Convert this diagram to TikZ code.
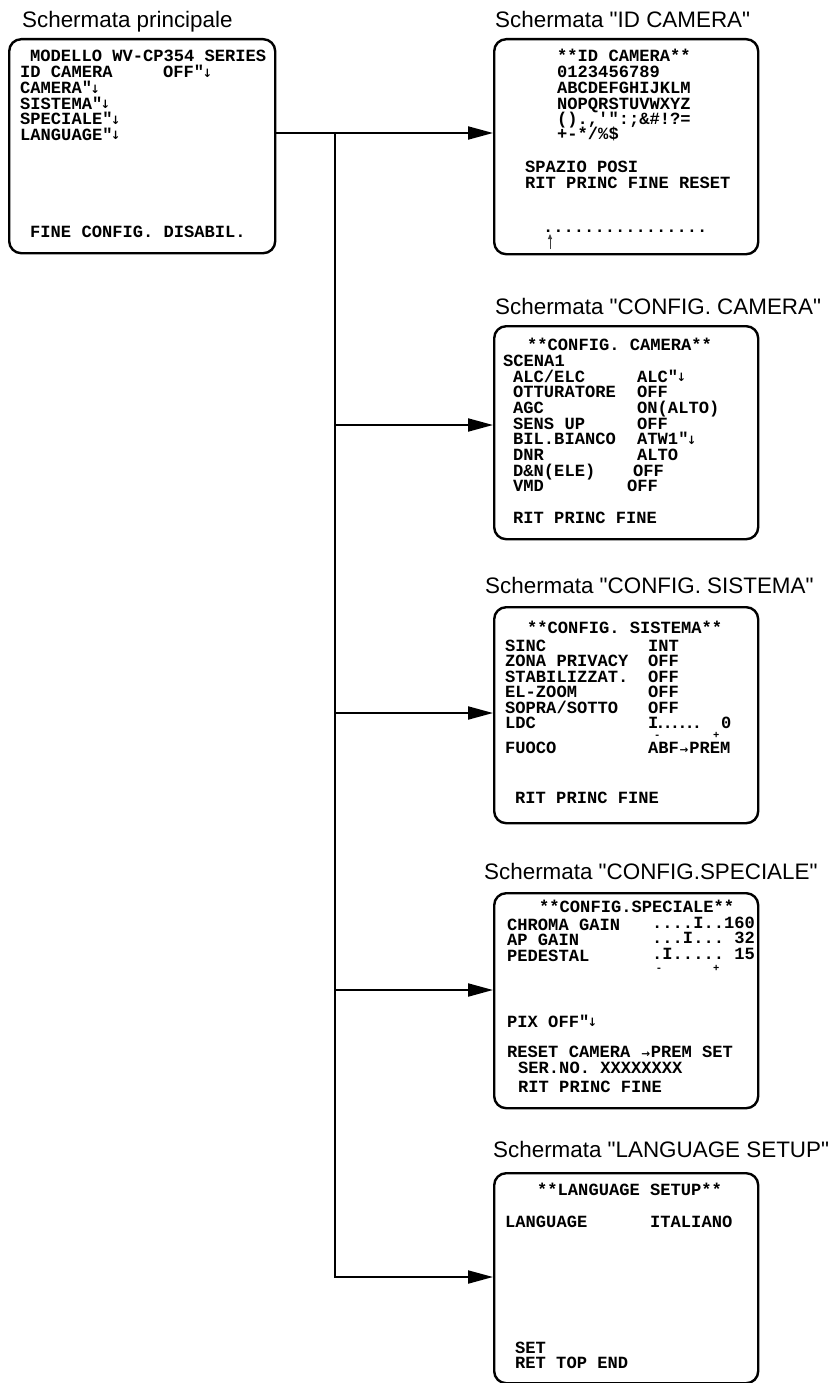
\documentclass[tikz,border=0pt]{standalone}
\usepackage{fontspec}
\setmainfont{Liberation Sans}[Ligatures=TeXOff]
\setmonofont{Liberation Mono}
\newfontfamily\symfont{DejaVu Sans}
\usetikzlibrary{arrows.meta}

\newcommand{\retarrow}{"\kern-.1em\raisebox{.5pt}{\symfont\bfseries\fontsize{11.5}{11.5}\selectfont ↓}}
\newcommand{\goarrow}{\makebox[.6em]{\symfont\bfseries\fontsize{10.5}{10.5}\selectfont →}}
\newcommand{\tightdots}[1]{\foreach \k in {1,...,#1}{\kern-3pt.}}
% - and + marks under a slider: lead, gap, drop
\newcommand{\slidermarks}[3]{\rlap{\raisebox{-#3}[0pt][0pt]{\fontsize{10.5}{10.5}\selectfont\hspace*{#1}-\hspace{#2}+}}}

\tikzset{
	screen/.style={draw, line width=2.4pt, rounded corners=12pt, anchor=north west, inner sep=0pt, minimum width=264pt},
	title/.style={anchor=base west, inner sep=0pt, font=\fontsize{22.4}{26}\selectfont},
	osd/.style={anchor=base west, inner sep=0pt, font=\ttfamily\bfseries\fontsize{17.1}{17}\selectfont},
	flow/.style={line width=2pt, -{Triangle[length=25pt,width=13pt]}},
}

\begin{document}
\begin{tikzpicture}[x=1pt,y=-1pt]
		\useasboundingbox (0,0) rectangle (828,1383);
		
		% Screens
		\node[screen, minimum width=266pt, minimum height=214pt] (main) at (8,38) {};
		\node[screen, minimum height=215pt] (idcam) at (493,38) {};
		\node[screen, minimum height=213pt] (cam) at (493,325) {};
		\node[screen, minimum height=216pt] (sis) at (493,606) {};
		\node[screen, minimum height=215pt] (spe) at (493,892) {};
		\node[screen, minimum height=210pt] (lang) at (493,1172) {};
		
		% Titles
		\node[title] (tmain) at (22,28) {Schermata principale};
		\node[title] (tidcam) at (495,28) {Schermata "ID CAMERA"};
		\node[title] (tcam) at (495,314) {Schermata "CONFIG. CAMERA"};
		\node[title] (tsis) at (485,593) {Schermata "CONFIG. SISTEMA"};
		\node[title] (tspe) at (484,879) {Schermata "CONFIG.SPECIALE"};
		\node[title] (tlang) at (493,1157) {Schermata "LANGUAGE SETUP"};
		
		% Main menu
		\node[osd] (m1) at (30,62) {MODELLO WV-CP354 SERIES};
		\node[osd] (m2) at (20,78) {ID CAMERA};
		\node[osd] (m2v) at (163,78) {OFF\retarrow};
		\node[osd] (m3) at (20,94) {CAMERA\retarrow};
		\node[osd] (m4) at (20,109.5) {SISTEMA\retarrow};
		\node[osd] (m5) at (20,125) {SPECIALE\retarrow};
		\node[osd] (m6) at (20,140.5) {LANGUAGE\retarrow};
		\node[osd] (m7) at (30,237) {FINE CONFIG. DISABIL.};
		
		% ID CAMERA
		\node[osd] (i1) at (557,62) {**ID CAMERA**};
		\node[osd] (i2) at (557,78) {0123456789};
		\node[osd] (i3) at (557,94) {ABCDEFGHIJKLM};
		\node[osd] (i4) at (557,110) {NOPQRSTUVWXYZ};
		\node[osd] (i5) at (557,125) {().,'":;\&\#!?=};
		\node[osd] (i6) at (557,140) {+-*/\%\$};
		\node[osd] (i7) at (525,173) {SPAZIO POSI};
		\node[osd] (i8) at (525,189) {RIT PRINC FINE RESET};
		\node[osd] (i9) at (543,232) {................};
		\coordinate (cur0) at (550,249);
		\coordinate (cur1) at (550,234);
		\draw[line width=.8pt, black!75, -{Triangle[length=5pt,width=4pt]}] (cur0) -- (cur1);
		
		% CONFIG. CAMERA
		\node[osd] (c1) at (527,350) {**CONFIG. CAMERA**};
		\node[osd] (c2) at (503,366) {SCENA1};
		\node[osd] (c3) at (513,382) {ALC/ELC};
		\node[osd] (c3v) at (637,382) {ALC\retarrow};
		\node[osd] (c4) at (513,397.5) {OTTURATORE};
		\node[osd] (c4v) at (637,397.5) {OFF};
		\node[osd] (c5) at (513,413) {AGC};
		\node[osd] (c5v) at (637,413) {ON(ALTO)};
		\node[osd] (c6) at (513,429) {SENS UP};
		\node[osd] (c6v) at (637,429) {OFF};
		\node[osd] (c7) at (513,444.5) {BIL.BIANCO};
		\node[osd] (c7v) at (637,444.5) {ATW1\retarrow};
		\node[osd] (c8) at (513,460) {DNR};
		\node[osd] (c8v) at (637,460) {ALTO};
		\node[osd] (c9) at (513,476) {D\&N(ELE)};
		\node[osd] (c9v) at (633,476) {OFF};
		\node[osd] (c10) at (513,491.5) {VMD};
		\node[osd] (c10v) at (627,491.5) {OFF};
		\node[osd] (c11) at (513,523) {RIT PRINC FINE};
		
		% CONFIG. SISTEMA
		\node[osd] (s1) at (527,633) {**CONFIG. SISTEMA**};
		\node[osd] (s2) at (505,651) {SINC};
		\node[osd] (s2v) at (648,651) {INT};
		\node[osd] (s3) at (505,666.5) {ZONA PRIVACY};
		\node[osd] (s3v) at (648,666.5) {OFF};
		\node[osd] (s4) at (505,682) {STABILIZZAT.};
		\node[osd] (s4v) at (648,682) {OFF};
		\node[osd] (s5) at (505,697.5) {EL-ZOOM};
		\node[osd] (s5v) at (648,697.5) {OFF};
		\node[osd] (s6) at (505,713) {SOPRA/SOTTO};
		\node[osd] (s6v) at (648,713) {OFF};
		\node[osd] (s7) at (505,728.5) {LDC};
		\node[osd] (s7v) at (648,728.5) {\slidermarks{6pt}{52.5pt}{10pt}I\tightdots{6}};
		\node[osd] (s7n) at (721,728.5) {0};
		\node[osd] (s8) at (505,753.5) {FUOCO};
		\node[osd] (s8v) at (648,753.5) {ABF\goarrow PREM};
		\node[osd] (s9) at (515,803) {RIT PRINC FINE};
		
		% CONFIG.SPECIALE
		\node[osd] (p1) at (539,912) {**CONFIG.SPECIALE**};
		\node[osd] (p2) at (507,930) {CHROMA GAIN};
		\node[osd] (p2v) at (652,928) {....I..160};
		\node[osd] (p3) at (507,945) {AP GAIN};
		\node[osd] (p3v) at (652,943) {...I... 32};
		\node[osd] (p4) at (507,961) {PEDESTAL};
		\node[osd] (p4v) at (652,959) {\slidermarks{3.7pt}{51pt}{12pt}.I..... 15};
		\node[osd] (p5) at (507,1027) {PIX OFF\retarrow};
		\node[osd] (p6) at (507,1057) {RESET CAMERA \goarrow PREM SET};
		\node[osd] (p7) at (518,1073) {SER.NO. XXXXXXXX};
		\node[osd] (p8) at (518,1092) {RIT PRINC FINE};
		
		% LANGUAGE SETUP
		\node[osd] (l1) at (537,1195) {**LANGUAGE SETUP**};
		\node[osd] (l2) at (505,1227) {LANGUAGE};
		\node[osd] (l2v) at (650,1227) {ITALIANO};
		\node[osd] (l3) at (515,1353) {SET};
		\node[osd] (l4) at (515,1368) {RET TOP END};
		
		% Links
		\coordinate (hub) at (335,133);
		\coordinate (jcam) at (335,425);
		\coordinate (jsis) at (335,713);
		\coordinate (jspe) at (335,990);
		\coordinate (jlang) at (335,1277);
		\draw[flow] (hub -| main.east) -- (hub -| idcam.west);
		\draw[flow] (hub) -- (jlang) -- (jlang -| lang.west);
		\draw[flow] (jcam) -- (jcam -| cam.west);
		\draw[flow] (jsis) -- (jsis -| sis.west);
		\draw[flow] (jspe) -- (jspe -| spe.west);
	\end{tikzpicture}
\end{document}
